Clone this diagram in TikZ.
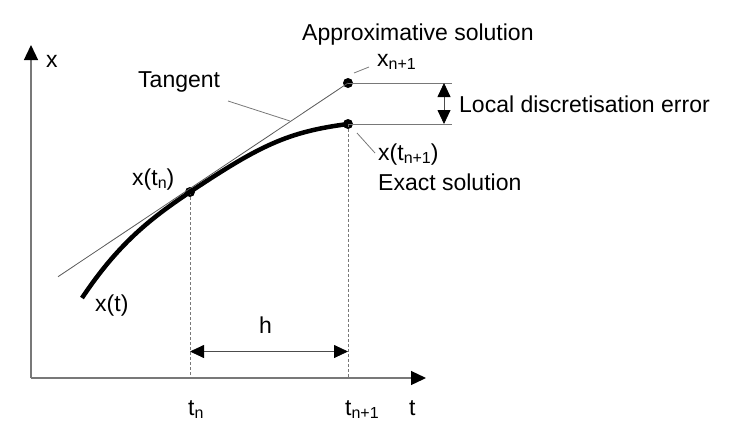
\documentclass[tikz,border=0pt]{standalone}
\usepackage{fontspec}
\setmainfont{Liberation Sans}
\usetikzlibrary{arrows.meta}
\definecolor{linegray}{RGB}{120,120,120}
\newcommand{\lowsub}[1]{\raisebox{-0.25ex}{\fontsize{16}{17}\selectfont #1}}
\begin{document}
\begin{tikzpicture}[x=1pt,y=-1pt,
  lbl/.style={inner sep=0pt,anchor=base west,font=\fontsize{23}{27}\selectfont},
  axis/.style={draw=linegray,line width=1.3pt,-{Triangle[length=15pt,width=14pt,color=black]}},
  thin/.style={draw=linegray,line width=0.8pt},
  dashline/.style={draw=linegray,line width=1pt,dash pattern=on 3pt off 2pt},
  dot/.style={circle,fill=black,inner sep=0pt,minimum size=10pt},
  dim/.style={draw=black!70,line width=0.8pt,{Triangle[length=14pt,width=13pt,color=black]}-{Triangle[length=14pt,width=13pt,color=black]}},
  curve/.style={line width=4.5pt,draw=black}]
\useasboundingbox (0,0) rectangle (733,437);
% axes
\coordinate (O) at (31,378);
\coordinate (Ytip) at (31,45);
\coordinate (Xtip) at (426,378);
\draw[axis] (O) -- (Ytip);
\draw[axis] (O) -- (Xtip);
% points
\node[dot] (pn) at (190,192) {};
\node[dot] (pe) at (348,124) {};
\node[dot] (pa) at (348,83) {};
\coordinate (tn) at (190,378);
\coordinate (tn1) at (348,378);
\draw[dashline] (pn.center) -- (tn);
\draw[dashline] (pe.center) -- (tn1);
% tangent
\coordinate (tstart) at (58,276.7);
\draw[draw=black!65,line width=0.8pt] (tstart) -- (pa.center);
% curve
\coordinate (cstart) at (82,298);
\draw[curve] (cstart) .. controls (118,244) and (150,218.7) .. (pn.center)
  .. controls (260,145.3) and (288,131.8) .. (pe.center);
% h arrow
\coordinate (h1) at (190,351.5);
\coordinate (h2) at (348,351.5);
\draw[dim] (h1) -- (h2);
% error band
\coordinate (ea) at (452,83);
\coordinate (ee) at (452,124);
\draw[thin] (pa.center) -- (ea);
\draw[thin] (pe.center) -- (ee);
\coordinate (da) at (444,83);
\coordinate (de) at (444,124);
\draw[dim] (da) -- (de);
% leader lines
\coordinate (tl1) at (228,101);
\coordinate (tl2) at (290,121);
\draw[thin] (tl1) -- (tl2);
\coordinate (al1) at (354,73);
\coordinate (al2) at (369,67);
\draw[thin] (al1) -- (al2);
\coordinate (el1) at (357,133);
\coordinate (el2) at (375,153);
\draw[thin] (el1) -- (el2);
% labels
\node[lbl] (lx) at (46,67) {x};
\node[lbl] (lt) at (409,415) {t};
\node[lbl] (ltan) at (138,87) {Tangent};
\node[lbl] (lxtn) at (132,185) {x(t\lowsub{n})};
\node[lbl] (lxt) at (95,311) {x(t)};
\node[lbl] (lh) at (259,333) {h};
\node[lbl] (ltn) at (188,415) {t\lowsub{n}};
\node[lbl] (ltn1) at (345,415) {t\lowsub{n+1}};
\node[lbl] (lapp) at (302,40) {Approximative solution};
\node[lbl] (lxn1) at (377,66.7) {x\lowsub{n+1}};
\node[lbl] (lerr) at (459,112.7) {Local discretisation error};
\node[lbl] (lxtn1) at (378,160) {x(t\lowsub{n+1})};
\node[lbl] (lex) at (378,190) {Exact solution};
\end{tikzpicture}
\end{document}
